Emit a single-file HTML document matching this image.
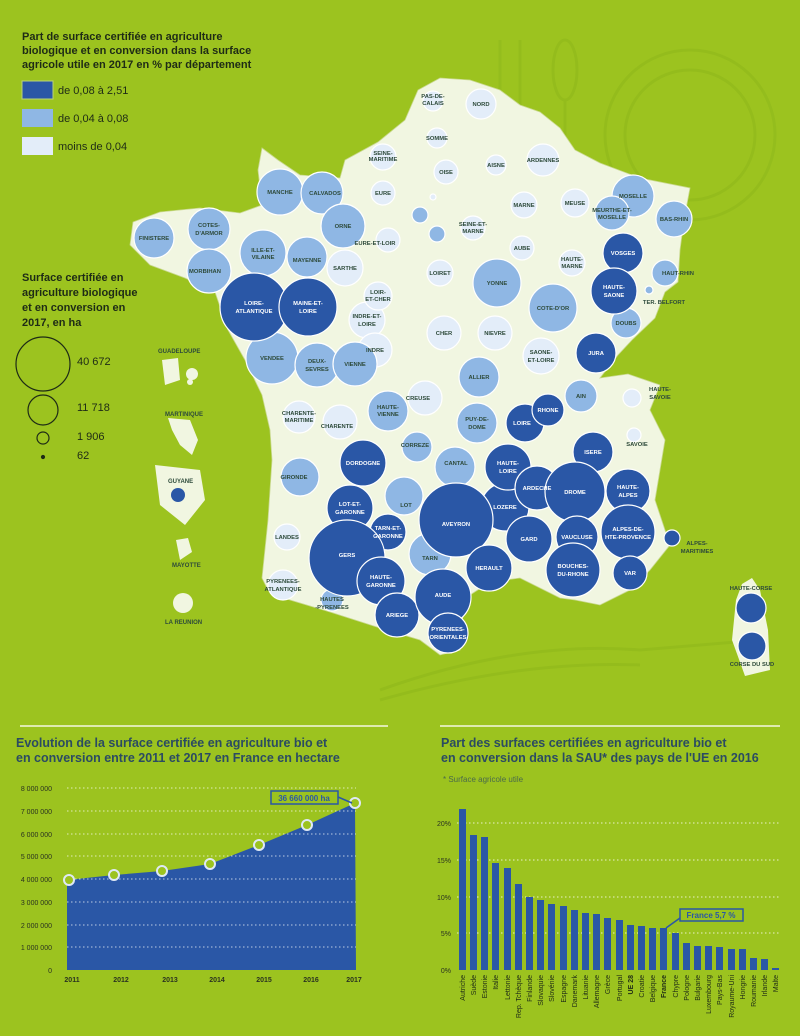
<!DOCTYPE html>
<html><head><meta charset="utf-8"><style>
html,body{margin:0;padding:0;background:#9cc31f;}
svg{display:block;font-family:"Liberation Sans",sans-serif;}
</style></head><body>
<svg width="800" height="1036" viewBox="0 0 800 1036" xmlns="http://www.w3.org/2000/svg">
<rect width="800" height="1036" fill="#9cc31f"/>
<!-- decorative plate / cutlery -->
<g fill="none" stroke="#92ba1c" stroke-width="3" opacity="0.7">
<circle cx="690" cy="135" r="85"/><circle cx="690" cy="135" r="65"/>
<ellipse cx="565" cy="70" rx="12" ry="30"/><line x1="565" y1="100" x2="565" y2="200"/>
<line x1="500" y1="40" x2="500" y2="200"/><line x1="520" y1="40" x2="520" y2="200"/>
<path d="M380 690 Q520 640 640 650 L760 640"/><path d="M380 700 Q520 660 640 665"/>
</g>
<!-- Legend text -->
<g fill="#1e2b16" font-weight="bold" font-size="11">
<text x="22" y="40">Part de surface certifiée en agriculture</text>
<text x="22" y="54">biologique et en conversion dans la surface</text>
<text x="22" y="68">agricole utile en 2017 en % par département</text>
</g>
<rect x="22" y="81" width="31" height="18" fill="#2a57a6" stroke="#b8d37a" stroke-width="1"/>
<rect x="22" y="109" width="31" height="18" fill="#8fb7e4"/>
<rect x="22" y="137" width="31" height="18" fill="#e3edf9"/>
<g fill="#1e2b16" font-size="11"><text x="58" y="94">de 0,08 à 2,51</text><text x="58" y="122">de 0,04 à 0,08</text><text x="58" y="150">moins de 0,04</text></g>
<g fill="#1e2b16" font-weight="bold" font-size="11">
<text x="22" y="281">Surface certifiée en</text><text x="22" y="296">agriculture biologique</text>
<text x="22" y="311">et en conversion en</text><text x="22" y="326">2017, en ha</text>
</g>
<g fill="none" stroke="#1e2b16" stroke-width="1.2">
<circle cx="43" cy="364" r="27"/><circle cx="43" cy="410" r="15"/><circle cx="43" cy="438" r="6"/><circle cx="43" cy="457" r="1.5" fill="#1e2b16"/>
</g>
<g fill="#1e2b16" font-size="11"><text x="77" y="365">40 672</text><text x="77" y="411">11 718</text><text x="77" y="440">1 906</text><text x="77" y="459">62</text></g>
<!-- France -->
<path fill="#f1f6e1" stroke="#c9d98e" stroke-width="0.8" d="M440 78 L470 80 L500 90 L520 105 L540 112 L560 128 L575 150 L600 163 L640 178 L690 188 L684 220 L680 250 L678 282 L665 292 L655 318 L632 340 L618 355 L600 378 L628 374 L660 385 L650 410 L665 440 L660 470 L655 500 L670 545 L650 570 L630 590 L600 605 L575 600 L560 598 L520 578 L490 582 L470 595 L462 620 L460 650 L440 655 L420 640 L380 628 L330 612 L290 600 L268 590 L262 578 L268 520 L272 460 L270 430 L262 395 L245 360 L228 330 L215 292 L185 278 L150 265 L130 245 L133 222 L160 212 L200 208 L240 213 L262 205 L258 170 L262 148 L278 160 L300 175 L340 178 L345 160 L378 142 L405 120 L418 90 Z"/>
<path fill="#f1f6e1" d="M742 584 L752 578 L760 590 L768 630 L770 670 L745 676 L732 640 L736 600 Z"/>
<!-- DOM -->
<g fill="#f1f6e1"><path d="M162 360 L178 358 L180 380 L165 385 Z"/><circle cx="192" cy="374" r="6"/><circle cx="190" cy="382" r="3"/>
<path d="M168 418 L190 420 L198 440 L192 455 L180 445 L172 430 Z"/>
<path d="M155 465 L200 470 L205 500 L185 525 L160 505 Z"/>
<path d="M176 540 L188 538 L192 552 L180 560 Z"/><circle cx="183" cy="603" r="10"/></g>
<circle cx="178" cy="495" r="7" fill="#2a57a6"/>
<g fill="#2d4a3a" font-size="6" font-weight="bold">
<text x="158" y="353">GUADELOUPE</text><text x="165" y="416">MARTINIQUE</text><text x="168" y="483">GUYANE</text><text x="172" y="567">MAYOTTE</text><text x="165" y="624">LA REUNION</text>
</g>
<!-- circles -->
<g stroke="#ffffff" stroke-width="1.2">
<g fill="#e3edf9">
<circle cx="345" cy="268" r="18"/><circle cx="367" cy="320" r="18"/><circle cx="383" cy="157" r="13"/><circle cx="383" cy="193" r="12"/>
<circle cx="388" cy="240" r="12"/><circle cx="378" cy="296" r="14"/><circle cx="375" cy="350" r="17"/>
<circle cx="433" cy="101" r="10"/><circle cx="481" cy="104" r="15"/><circle cx="437" cy="138" r="10"/><circle cx="446" cy="172" r="12"/>
<circle cx="496" cy="165" r="10"/><circle cx="543" cy="160" r="16"/><circle cx="524" cy="205" r="13"/><circle cx="575" cy="203" r="14"/>
<circle cx="572" cy="263" r="13"/><circle cx="522" cy="248" r="12"/><circle cx="473" cy="228" r="12"/><circle cx="440" cy="273" r="13"/>
<circle cx="495" cy="333" r="17"/><circle cx="444" cy="333" r="17"/><circle cx="541" cy="356" r="18"/><circle cx="433" cy="197" r="3"/>
<circle cx="299" cy="417" r="16"/><circle cx="340" cy="422" r="17"/><circle cx="425" cy="398" r="17"/><circle cx="287" cy="537" r="13"/>
<circle cx="283" cy="585" r="15"/><circle cx="632" cy="398" r="9"/><circle cx="634" cy="435" r="7"/>
</g>
<g fill="#8fb7e4">
<circle cx="280" cy="192" r="23"/><circle cx="322" cy="193" r="21"/><circle cx="343" cy="226" r="22"/><circle cx="154" cy="238" r="20"/>
<circle cx="209" cy="229" r="21"/><circle cx="209" cy="271" r="22"/><circle cx="263" cy="253" r="23"/><circle cx="307" cy="257" r="20"/>
<circle cx="272" cy="358" r="26"/><circle cx="317" cy="365" r="22"/><circle cx="355" cy="364" r="22"/>
<circle cx="633" cy="196" r="21"/><circle cx="612" cy="213" r="17"/><circle cx="674" cy="219" r="18"/><circle cx="665" cy="273" r="13"/>
<circle cx="649" cy="290" r="4"/><circle cx="626" cy="323" r="15"/><circle cx="553" cy="308" r="24"/><circle cx="497" cy="283" r="24"/>
<circle cx="479" cy="377" r="20"/><circle cx="420" cy="215" r="8"/><circle cx="437" cy="234" r="8"/>
<circle cx="388" cy="411" r="20"/><circle cx="477" cy="423" r="20"/><circle cx="417" cy="447" r="15"/><circle cx="455" cy="467" r="20"/>
<circle cx="300" cy="477" r="19"/><circle cx="404" cy="496" r="19"/><circle cx="430" cy="554" r="21"/><circle cx="332" cy="600" r="11"/>
<circle cx="581" cy="396" r="16"/>
</g>
<g fill="#2a57a6">
<circle cx="254" cy="307" r="34"/><circle cx="308" cy="307" r="29"/><circle cx="623" cy="253" r="20"/><circle cx="614" cy="291" r="23"/>
<circle cx="596" cy="353" r="20"/><circle cx="363" cy="463" r="23"/><circle cx="350" cy="508" r="23"/><circle cx="388" cy="532" r="18"/>
<circle cx="505" cy="507" r="24"/><circle cx="508" cy="467" r="23"/><circle cx="456" cy="520" r="37"/><circle cx="347" cy="558" r="38"/>
<circle cx="381" cy="581" r="24"/><circle cx="489" cy="568" r="23"/><circle cx="397" cy="615" r="22"/><circle cx="443" cy="597" r="28"/>
<circle cx="448" cy="633" r="20"/><circle cx="525" cy="423" r="19"/><circle cx="548" cy="410" r="16"/><circle cx="593" cy="452" r="20"/>
<circle cx="537" cy="488" r="22"/><circle cx="575" cy="492" r="30"/><circle cx="628" cy="491" r="22"/><circle cx="628" cy="532" r="27"/>
<circle cx="529" cy="539" r="23"/><circle cx="577" cy="537" r="21"/><circle cx="573" cy="570" r="27"/><circle cx="630" cy="573" r="17"/>
<circle cx="672" cy="538" r="8"/><circle cx="751" cy="608" r="15"/><circle cx="752" cy="646" r="14"/>
</g>
</g>
<!-- labels dark text -->
<g fill="#2d4a3a" font-size="5.8" font-weight="bold" text-anchor="middle">
<text x="280" y="194">MANCHE</text><text x="325" y="195">CALVADOS</text><text x="343" y="228">ORNE</text><text x="154" y="240">FINISTERE</text>
<text x="209" y="227">COTES-</text><text x="209" y="235">D'ARMOR</text><text x="205" y="273">MORBIHAN</text><text x="263" y="252">ILLE-ET-</text><text x="263" y="259">VILAINE</text>
<text x="307" y="262">MAYENNE</text><text x="345" y="270">SARTHE</text><text x="367" y="318">INDRE-ET-</text><text x="367" y="326">LOIRE</text>
<text x="272" y="360">VENDEE</text><text x="317" y="363">DEUX-</text><text x="317" y="371">SEVRES</text><text x="355" y="366">VIENNE</text>
<text x="383" y="155">SEINE-</text><text x="383" y="161">MARITIME</text><text x="383" y="195">EURE</text><text x="375" y="245">EURE-ET-LOIR</text>
<text x="378" y="294">LOIR-</text><text x="378" y="301">ET-CHER</text><text x="375" y="352">INDRE</text>
<text x="433" y="98">PAS-DE-</text><text x="433" y="105">CALAIS</text><text x="481" y="106">NORD</text><text x="437" y="140">SOMME</text><text x="446" y="174">OISE</text>
<text x="496" y="167">AISNE</text><text x="543" y="162">ARDENNES</text><text x="524" y="207">MARNE</text><text x="575" y="205">MEUSE</text>
<text x="633" y="198">MOSELLE</text><text x="612" y="212">MEURTHE-ET-</text><text x="612" y="219">MOSELLE</text><text x="674" y="221">BAS-RHIN</text>
<text x="678" y="275">HAUT-RHIN</text><text x="664" y="304">TER. BELFORT</text><text x="626" y="325">DOUBS</text><text x="553" y="310">COTE-D'OR</text><text x="497" y="285">YONNE</text>
<text x="572" y="261">HAUTE-</text><text x="572" y="268">MARNE</text><text x="522" y="250">AUBE</text><text x="473" y="226">SEINE-ET-</text><text x="473" y="233">MARNE</text>
<text x="440" y="275">LOIRET</text><text x="495" y="335">NIEVRE</text><text x="444" y="335">CHER</text><text x="541" y="354">SAONE-</text><text x="541" y="362">ET-LOIRE</text>
<text x="479" y="379">ALLIER</text><text x="299" y="415">CHARENTE-</text><text x="299" y="422">MARITIME</text><text x="337" y="428">CHARENTE</text>
<text x="388" y="409">HAUTE-</text><text x="388" y="416">VIENNE</text><text x="418" y="400">CREUSE</text><text x="477" y="421">PUY-DE-</text><text x="477" y="429">DOME</text>
<text x="415" y="447">CORREZE</text><text x="456" y="465">CANTAL</text><text x="294" y="479">GIRONDE</text><text x="406" y="507">LOT</text><text x="430" y="560">TARN</text>
<text x="287" y="539">LANDES</text><text x="283" y="583">PYRENEES-</text><text x="283" y="591">ATLANTIQUE</text><text x="332" y="601">HAUTES</text><text x="332" y="609">-PYRENEES</text>
<text x="581" y="398">AIN</text><text x="660" y="391">HAUTE-</text><text x="660" y="399">SAVOIE</text><text x="637" y="446">SAVOIE</text>
<text x="697" y="545">ALPES-</text><text x="697" y="553">MARITIMES</text><text x="751" y="590">HAUTE-CORSE</text>
</g>
<g fill="#ffffff" font-size="5.8" font-weight="bold" text-anchor="middle">
<text x="254" y="305">LOIRE-</text><text x="254" y="313">ATLANTIQUE</text><text x="308" y="305">MAINE-ET-</text><text x="308" y="313">LOIRE</text>
<text x="623" y="255">VOSGES</text><text x="614" y="289">HAUTE-</text><text x="614" y="297">SAONE</text><text x="596" y="355">JURA</text>
<text x="363" y="465">DORDOGNE</text><text x="350" y="506">LOT-ET-</text><text x="350" y="514">GARONNE</text><text x="388" y="530">TARN-ET-</text><text x="388" y="538">GARONNE</text>
<text x="505" y="509">LOZERE</text><text x="508" y="465">HAUTE-</text><text x="508" y="473">LOIRE</text><text x="456" y="526">AVEYRON</text><text x="347" y="557">GERS</text>
<text x="381" y="579">HAUTE-</text><text x="381" y="587">GARONNE</text><text x="489" y="570">HERAULT</text><text x="397" y="617">ARIEGE</text><text x="443" y="597">AUDE</text>
<text x="448" y="631">PYRENEES-</text><text x="448" y="639">ORIENTALES</text><text x="522" y="425">LOIRE</text><text x="548" y="412">RHONE</text><text x="593" y="454">ISERE</text>
<text x="537" y="490">ARDECHE</text><text x="575" y="494">DROME</text><text x="628" y="489">HAUTE-</text><text x="628" y="497">ALPES</text><text x="628" y="531">ALPES-DE-</text><text x="628" y="539">HTE-PROVENCE</text>
<text x="529" y="541">GARD</text><text x="577" y="539">VAUCLUSE</text><text x="573" y="568">BOUCHES-</text><text x="573" y="576">DU-RHONE</text><text x="630" y="575">VAR</text>
<text x="752" y="666" fill="#2d4a3a">CORSE DU SUD</text>
</g>
<!-- separators -->
<line x1="20" y1="726" x2="388" y2="726" stroke="#f4f8e0" stroke-width="1.5"/>
<line x1="440" y1="726" x2="780" y2="726" stroke="#f4f8e0" stroke-width="1.5"/>
<!-- line chart -->
<g fill="#2b4b62" font-weight="bold" font-size="12.5">
<text x="16" y="747">Evolution de la surface certifiée en agriculture bio et</text>
<text x="16" y="762">en conversion entre 2011 et 2017 en France en hectare</text>
</g>
<path d="M67 880 L114 875 L162 871 L210 864 L259 845 L307 825 L355 803 L356 970 L67 970 Z" fill="#2a57a6"/>
<g stroke="#ffffff" stroke-width="0.8" stroke-dasharray="1.5,2.5" opacity="0.9">
<line x1="67" y1="788" x2="356" y2="788"/><line x1="67" y1="811" x2="356" y2="811"/><line x1="67" y1="834" x2="356" y2="834"/>
<line x1="67" y1="856" x2="356" y2="856"/><line x1="67" y1="879" x2="356" y2="879"/><line x1="67" y1="902" x2="356" y2="902"/>
<line x1="67" y1="925" x2="356" y2="925"/><line x1="67" y1="947" x2="356" y2="947"/>
</g>
<g fill="#9cc31f" stroke="#dfe9f5" stroke-width="2">
<circle cx="69" cy="880" r="5"/><circle cx="114" cy="875" r="5"/><circle cx="162" cy="871" r="5"/><circle cx="210" cy="864" r="5"/>
<circle cx="259" cy="845" r="5"/><circle cx="307" cy="825" r="5"/><circle cx="355" cy="803" r="5"/>
</g>
<rect x="271" y="791" width="67" height="13" fill="#9cc31f" stroke="#2a57a6" stroke-width="1.5"/>
<line x1="338" y1="797" x2="352" y2="803" stroke="#2a57a6" stroke-width="1.5"/>
<text x="304" y="801" fill="#2a57a6" font-size="8" font-weight="bold" text-anchor="middle">36 660 000 ha</text>
<g fill="#2a3320" font-size="7" text-anchor="end">
<text x="52" y="791">8 000 000</text><text x="52" y="814">7 000 000</text><text x="52" y="837">6 000 000</text><text x="52" y="859">5 000 000</text>
<text x="52" y="882">4 000 000</text><text x="52" y="905">3 000 000</text><text x="52" y="928">2 000 000</text><text x="52" y="950">1 000 000</text><text x="52" y="973">0</text>
</g>
<g fill="#2a3320" font-size="7" font-weight="bold" text-anchor="middle">
<text x="72" y="982">2011</text><text x="121" y="982">2012</text><text x="170" y="982">2013</text><text x="217" y="982">2014</text>
<text x="264" y="982">2015</text><text x="311" y="982">2016</text><text x="354" y="982">2017</text>
</g>
<!-- bar chart -->
<g fill="#2b4b62" font-weight="bold" font-size="12.5">
<text x="441" y="747">Part des surfaces certifiées  en agriculture bio et</text>
<text x="441" y="762">en conversion dans la SAU* des pays de l'UE en 2016</text>
</g>
<text x="443" y="782" fill="#4a6a4a" font-size="8">* Surface agricole utile</text>
<g stroke="#ffffff" stroke-width="0.8" stroke-dasharray="1.5,2.5">
<line x1="457" y1="823" x2="780" y2="823"/><line x1="457" y1="860" x2="780" y2="860"/><line x1="457" y1="897" x2="780" y2="897"/><line x1="457" y1="933" x2="780" y2="933"/>
</g>
<g fill="#2a3320" font-size="7" text-anchor="end">
<text x="451" y="826">20%</text><text x="451" y="863">15%</text><text x="451" y="900">10%</text><text x="451" y="936">5%</text><text x="451" y="973">0%</text>
</g>
<g fill="#2a57a6">
<rect x="459" y="809" width="7" height="161"/><rect x="470" y="835" width="7" height="135"/><rect x="481" y="837" width="7" height="133"/>
<rect x="492" y="863" width="7" height="107"/><rect x="504" y="868" width="7" height="102"/><rect x="515" y="884" width="7" height="86"/>
<rect x="526" y="897" width="7" height="73"/><rect x="537" y="900" width="7" height="70"/><rect x="548" y="904" width="7" height="66"/>
<rect x="560" y="906" width="7" height="64"/><rect x="571" y="910" width="7" height="60"/><rect x="582" y="913" width="7" height="57"/>
<rect x="593" y="914" width="7" height="56"/><rect x="604" y="918" width="7" height="52"/><rect x="616" y="920" width="7" height="50"/>
<rect x="627" y="925" width="7" height="45"/><rect x="638" y="926" width="7" height="44"/><rect x="649" y="928" width="7" height="42"/>
<rect x="660" y="928" width="7" height="42"/><rect x="672" y="933" width="7" height="37"/><rect x="683" y="943" width="7" height="27"/>
<rect x="694" y="946" width="7" height="24"/><rect x="705" y="946" width="7" height="24"/><rect x="716" y="947" width="7" height="23"/>
<rect x="728" y="949" width="7" height="21"/><rect x="739" y="949" width="7" height="21"/><rect x="750" y="958" width="7" height="12"/>
<rect x="761" y="959" width="7" height="11"/><rect x="772" y="968" width="7" height="2"/>
</g>
<rect x="680" y="909" width="63" height="12" fill="#9cc31f" stroke="#2a57a6" stroke-width="1.5"/>
<line x1="680" y1="918" x2="666" y2="928" stroke="#2a57a6" stroke-width="1.5"/>
<text x="711" y="918" fill="#2a57a6" font-size="8" font-weight="bold" text-anchor="middle">France 5,7 %</text>
<g fill="#1e2b16" font-size="7" text-anchor="end">
<text transform="translate(465,975) rotate(-90)">Autriche</text><text transform="translate(476,975) rotate(-90)">Suède</text>
<text transform="translate(487,975) rotate(-90)">Estonie</text><text transform="translate(498,975) rotate(-90)">Italie</text>
<text transform="translate(510,975) rotate(-90)">Lettonie</text><text transform="translate(521,975) rotate(-90)">Rep. Tchèque</text>
<text transform="translate(532,975) rotate(-90)">Finlande</text><text transform="translate(543,975) rotate(-90)">Slovaquie</text>
<text transform="translate(554,975) rotate(-90)">Slovénie</text><text transform="translate(566,975) rotate(-90)">Espagne</text>
<text transform="translate(577,975) rotate(-90)">Danemark</text><text transform="translate(588,975) rotate(-90)">Lituanie</text>
<text transform="translate(599,975) rotate(-90)">Allemagne</text><text transform="translate(610,975) rotate(-90)">Grèce</text>
<text transform="translate(622,975) rotate(-90)">Portugal</text><text transform="translate(633,975) rotate(-90)" font-weight="bold">UE 28</text>
<text transform="translate(644,975) rotate(-90)">Croatie</text><text transform="translate(655,975) rotate(-90)">Belgique</text>
<text transform="translate(666,975) rotate(-90)" font-weight="bold">France</text><text transform="translate(678,975) rotate(-90)">Chypre</text>
<text transform="translate(689,975) rotate(-90)">Pologne</text><text transform="translate(700,975) rotate(-90)">Bulgarie</text>
<text transform="translate(711,975) rotate(-90)">Luxembourg</text><text transform="translate(722,975) rotate(-90)">Pays-Bas</text>
<text transform="translate(734,975) rotate(-90)">Royaume-Uni</text><text transform="translate(745,975) rotate(-90)">Hongrie</text>
<text transform="translate(756,975) rotate(-90)">Roumanie</text><text transform="translate(767,975) rotate(-90)">Irlande</text>
<text transform="translate(778,975) rotate(-90)">Malte</text>
</g>
</svg>
</body></html>
